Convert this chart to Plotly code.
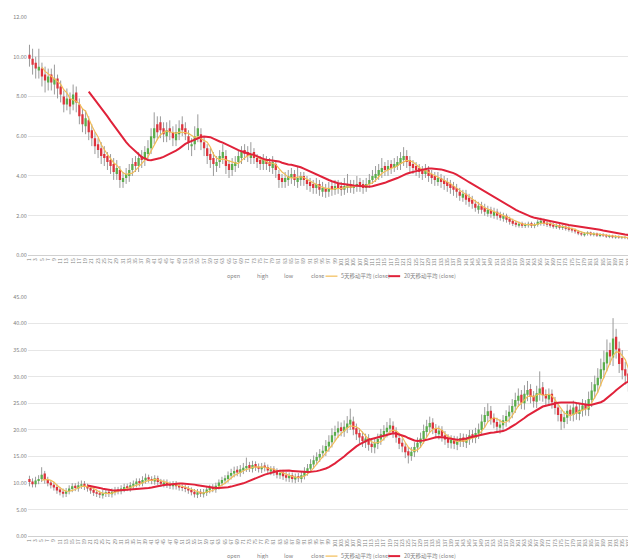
import plotly.graph_objects as go
import pandas as pd

# ---------------- data: top chart (196 periods) ----------------
top_open = [10.1, 9.9, 9.7, 9.3, 9.4, 9.1, 8.7, 9.1, 8.6, 8.9,
            8.5, 8.0, 7.6, 7.9, 7.6, 8.2, 7.6, 7.1, 6.5, 6.8,
            6.3, 5.9, 5.6, 5.4, 5.1, 5.0, 4.8, 4.6, 4.1, 4.3,
            3.7, 3.9, 4.0, 4.3, 4.7, 4.5, 5.0, 4.8, 5.1, 5.4,
            5.9, 6.6, 6.7, 6.4, 6.0, 6.4, 6.2, 5.8, 6.1, 6.6,
            6.4, 6.0, 5.5, 5.6, 6.0, 6.1, 5.7, 5.4, 5.1, 4.9,
            4.5, 4.7, 4.9, 5.0, 4.6, 4.3, 4.5, 4.7, 4.9, 5.3,
            5.2, 4.9, 5.2, 4.9, 4.8, 4.6, 4.8, 4.7, 4.4, 4.6,
            4.1, 3.9, 3.7, 3.8, 3.9, 4.1, 3.7, 3.8, 4.0, 3.8,
            3.7, 3.6, 3.4, 3.6, 3.2, 3.4, 3.2, 3.5, 3.3, 3.6,
            3.5, 3.3, 3.4, 3.6, 3.4, 3.5, 3.7, 3.6, 3.4, 3.6,
            3.8, 3.9, 4.0, 4.2, 4.5, 4.3, 4.6, 4.4, 4.5, 4.6,
            4.8, 5.0, 4.8, 4.6, 4.5, 4.4, 4.3, 4.1, 4.3, 4.1,
            4.0, 3.7, 3.9, 3.8, 3.7, 3.6, 3.5, 3.4, 3.2, 2.9,
            3.1, 2.9, 2.8, 2.6, 2.3, 2.5, 2.4, 2.1, 2.3, 2.0,
            2.2, 2.05, 1.85, 2.0, 1.85, 1.75, 1.65, 1.5, 1.62, 1.48,
            1.52, 1.62, 1.48, 1.55, 1.62, 1.75, 1.65, 1.6, 1.55, 1.42,
            1.52, 1.38, 1.45, 1.4, 1.33, 1.28, 1.2, 1.12, 1.02, 1.08,
            1.15, 1.03, 1.1, 0.98, 1.06, 1.02, 0.93, 0.99, 0.9, 0.96,
            0.88, 0.93, 0.9, 0.84, 0.9, 0.85]
top_high = [10.6, 10.4, 10.0, 10.4, 9.7, 9.5, 9.4, 9.4, 9.6, 9.1,
            8.8, 8.3, 8.4, 8.2, 8.6, 8.5, 7.9, 7.4, 7.3, 7.0,
            6.6, 6.2, 5.9, 5.7, 5.5, 5.2, 5.1, 4.9, 4.8, 4.5,
            4.2, 4.4, 4.6, 4.9, 5.0, 5.2, 5.3, 5.5, 5.8, 6.4,
            7.2, 7.0, 7.0, 6.7, 6.7, 6.8, 6.5, 6.6, 6.8, 7.0,
            6.7, 6.3, 5.9, 6.5, 7.1, 6.4, 6.0, 5.6, 5.4, 5.2,
            5.0, 5.3, 5.6, 5.3, 4.8, 4.9, 5.0, 5.3, 5.5, 5.6,
            5.5, 5.7, 5.4, 5.1, 5.0, 5.1, 5.0, 4.9, 5.0, 4.8,
            4.3, 4.1, 4.2, 4.3, 4.4, 4.3, 4.5, 4.2, 4.2, 4.0,
            3.9, 3.8, 3.9, 3.8, 3.7, 3.6, 3.7, 3.7, 3.8, 3.8,
            3.7, 3.9, 4.1, 3.8, 3.8, 4.0, 3.9, 3.8, 3.9, 4.1,
            4.3, 4.5, 4.6, 4.9, 4.7, 4.8, 4.8, 4.9, 5.0, 5.2,
            5.45, 5.3, 5.0, 4.8, 4.7, 4.6, 4.5, 4.6, 4.5, 4.3,
            4.2, 4.2, 4.1, 4.0, 3.9, 3.8, 3.7, 3.6, 3.4, 3.3,
            3.3, 3.1, 3.0, 2.8, 2.7, 2.7, 2.6, 2.5, 2.45, 2.4,
            2.35, 2.2, 2.15, 2.1, 1.95, 1.85, 1.75, 1.7, 1.7, 1.65,
            1.7, 1.7, 1.65, 1.8, 1.9, 1.85, 1.75, 1.7, 1.65, 1.6,
            1.6, 1.55, 1.52, 1.48, 1.4, 1.35, 1.28, 1.2, 1.18, 1.22,
            1.2, 1.17, 1.15, 1.12, 1.12, 1.08, 1.05, 1.04, 1.02, 1.01,
            0.98, 0.98, 0.95, 0.96, 0.94, 0.9]
top_low = [9.5, 9.1, 8.9, 8.9, 8.5, 8.2, 8.3, 8.3, 8.1, 7.9,
           7.7, 7.2, 7.3, 7.1, 7.3, 7.2, 6.6, 6.2, 6.1, 5.8,
           5.5, 5.1, 4.9, 4.6, 4.5, 4.3, 4.1, 3.8, 3.8, 3.4,
           3.4, 3.6, 3.7, 4.0, 4.2, 4.2, 4.4, 4.5, 4.8, 5.1,
           5.6, 5.8, 5.9, 5.7, 5.7, 5.8, 5.5, 5.5, 5.8, 6.0,
           5.8, 5.3, 5.0, 5.3, 5.7, 5.3, 5.0, 4.6, 4.4, 4.0,
           4.2, 4.4, 4.6, 4.1, 3.9, 4.0, 4.2, 4.4, 4.6, 4.8,
           4.7, 4.6, 4.6, 4.4, 4.3, 4.3, 4.3, 4.2, 4.1, 3.9,
           3.4, 3.4, 3.4, 3.5, 3.6, 3.5, 3.4, 3.5, 3.5, 3.3,
           3.2, 3.1, 3.1, 3.0, 2.95, 2.9, 2.95, 3.0, 3.05, 3.1,
           3.0, 3.05, 3.15, 3.15, 3.1, 3.2, 3.2, 3.1, 3.2, 3.4,
           3.6, 3.7, 3.8, 3.9, 4.0, 4.0, 4.1, 4.2, 4.3, 4.3,
           4.5, 4.4, 4.2, 4.1, 4.0, 3.9, 3.8, 3.9, 3.7, 3.6,
           3.5, 3.5, 3.4, 3.3, 3.2, 3.1, 3.0, 2.9, 2.75, 2.7,
           2.55, 2.45, 2.35, 2.2, 2.1, 2.1, 2.0, 1.95, 1.9, 1.85,
           1.8, 1.75, 1.7, 1.65, 1.55, 1.48, 1.42, 1.4, 1.38, 1.38,
           1.4, 1.38, 1.37, 1.45, 1.5, 1.48, 1.43, 1.4, 1.35, 1.33,
           1.3, 1.28, 1.25, 1.2, 1.15, 1.1, 1.02, 0.97, 0.95, 1.0,
           0.97, 0.96, 0.93, 0.92, 0.93, 0.88, 0.87, 0.86, 0.84, 0.84,
           0.82, 0.82, 0.79, 0.78, 0.76, 0.74]
top_close = [9.9, 9.6, 9.4, 9.5, 9.0, 8.8, 9.0, 8.7, 8.9, 8.4,
             8.1, 7.6, 7.9, 7.5, 8.1, 7.7, 7.0, 6.6, 6.9, 6.2,
             5.9, 5.5, 5.3, 5.0, 4.9, 4.7, 4.5, 4.2, 4.4, 3.8,
             3.9, 4.1, 4.3, 4.6, 4.5, 4.9, 4.8, 5.2, 5.4, 6.0,
             6.4, 6.2, 6.3, 6.1, 6.3, 6.2, 5.9, 6.2, 6.4, 6.3,
             6.1, 5.7, 5.6, 6.0, 6.4, 5.7, 5.4, 5.0, 4.8, 4.6,
             4.7, 5.0, 5.2, 4.5, 4.3, 4.6, 4.7, 5.0, 5.2, 5.1,
             5.0, 5.1, 4.9, 4.7, 4.6, 4.8, 4.6, 4.5, 4.7, 4.3,
             3.8, 3.7, 3.9, 4.0, 4.1, 3.8, 3.9, 4.0, 3.8, 3.6,
             3.5, 3.4, 3.6, 3.3, 3.4, 3.2, 3.4, 3.3, 3.5, 3.4,
             3.3, 3.5, 3.6, 3.4, 3.5, 3.6, 3.5, 3.4, 3.6, 3.8,
             4.0, 4.1, 4.3, 4.4, 4.3, 4.5, 4.4, 4.6, 4.7, 4.9,
             5.0, 4.7, 4.5, 4.4, 4.3, 4.2, 4.1, 4.3, 4.0, 3.9,
             3.8, 3.9, 3.7, 3.6, 3.5, 3.4, 3.3, 3.2, 3.0, 3.1,
             2.8, 2.7, 2.6, 2.4, 2.5, 2.3, 2.2, 2.3, 2.1, 2.2,
             2.0, 1.9, 2.0, 1.8, 1.7, 1.6, 1.55, 1.6, 1.5, 1.55,
             1.6, 1.5, 1.55, 1.7, 1.75, 1.6, 1.55, 1.5, 1.45, 1.5,
             1.4, 1.45, 1.35, 1.3, 1.25, 1.2, 1.1, 1.05, 1.1, 1.15,
             1.05, 1.1, 1.0, 1.05, 1.0, 0.95, 0.98, 0.92, 0.95, 0.9,
             0.92, 0.88, 0.85, 0.9, 0.82, 0.8]

# ---------------- data: bottom chart (200 periods) ----------------
bot_open = [10.8, 10.3, 9.8, 10.4, 10.8, 11.8, 10.7, 10.1, 9.7, 9.3,
            8.8, 8.4, 8.0, 8.5, 8.9, 9.5, 9.0, 9.5, 9.9, 9.4,
            9.1, 8.7, 8.3, 8.1, 7.7, 8.0, 8.4, 7.9, 8.3, 8.8,
            8.5, 8.9, 9.4, 9.0, 9.5, 9.8, 10.4, 10.0, 10.5, 11.1,
            10.8, 10.3, 10.9, 10.3, 9.8, 10.2, 9.8, 9.4, 9.9, 9.5,
            9.3, 9.2, 9.0, 8.7, 8.4, 7.8, 8.4, 7.9, 8.2, 8.7,
            9.3, 8.8, 9.4, 10.0, 10.5, 10.8, 11.4, 11.8, 12.5, 11.9,
            12.4, 12.8, 13.4, 12.7, 13.6, 13.1, 12.6, 13.3, 13.0, 12.2,
            12.7, 12.2, 11.5, 12.0, 11.5, 10.9, 11.5, 10.7, 11.3, 10.8,
            11.4, 12.1, 12.7, 13.5, 14.2, 14.8, 15.6, 16.0, 16.9, 17.7,
            18.9, 19.5, 20.5, 19.7, 20.4, 21.0, 21.6, 20.3, 19.4, 18.8,
            17.7, 18.5, 17.4, 16.7, 17.4, 18.2, 19.0, 19.6, 20.2, 20.8,
            19.7, 18.5, 17.6, 16.9, 16.0, 15.1, 15.8, 16.7, 17.5, 18.3,
            19.6, 20.5, 21.4, 20.3, 19.2, 20.0, 19.0, 18.4, 17.5, 18.2,
            17.2, 17.8, 18.6, 17.6, 18.2, 19.2, 18.5, 19.3, 20.0, 21.5,
            22.6, 23.6, 22.3, 21.5, 20.4, 20.9, 21.7, 22.5, 23.3, 24.4,
            25.5, 26.6, 25.0, 26.6, 27.7, 26.4, 25.3, 26.7, 28.0, 26.7,
            25.7, 26.8, 25.3, 24.2, 23.0, 21.5, 22.3, 23.8, 22.8, 24.4,
            23.0, 23.7, 24.8, 23.8, 25.6, 27.2, 28.4, 29.6, 31.2, 32.5,
            35.0, 33.6, 37.5, 35.3, 33.5, 31.4, 30.6, 29.0, 30.4, 31.6]
bot_high = [11.4, 10.9, 11.2, 11.5, 13.0, 12.3, 11.2, 10.6, 10.2, 9.8,
            9.3, 9.0, 9.1, 9.6, 10.0, 10.0, 10.3, 10.5, 10.4, 9.9,
            9.6, 9.2, 8.8, 8.6, 8.7, 8.9, 8.9, 9.0, 9.3, 9.3,
            9.6, 9.9, 9.9, 10.2, 10.5, 10.9, 10.9, 11.3, 11.8, 11.6,
            11.3, 11.5, 11.4, 10.8, 10.7, 10.7, 10.3, 10.4, 10.4, 10.0,
            9.8, 9.7, 9.5, 9.2, 8.9, 8.9, 8.9, 8.9, 9.4, 9.7,
            9.8, 10.1, 10.7, 11.2, 11.5, 12.2, 12.7, 13.1, 13.2, 13.4,
            13.8, 14.8, 14.0, 14.2, 14.1, 13.7, 13.8, 13.9, 13.5, 13.2,
            13.2, 12.8, 12.5, 12.5, 12.1, 12.0, 12.0, 11.8, 11.9, 12.2,
            13.0, 13.6, 14.5, 15.2, 15.8, 16.4, 17.1, 18.1, 19.0, 20.3,
            20.8, 21.6, 21.4, 21.8, 22.6, 24.0, 22.5, 21.2, 20.3, 19.7,
            19.3, 19.2, 18.2, 18.4, 19.3, 20.2, 20.9, 21.5, 22.2, 21.6,
            20.5, 19.3, 18.4, 17.6, 16.8, 16.8, 17.7, 18.6, 19.5, 21.0,
            21.9, 22.5, 22.2, 21.1, 20.8, 20.7, 19.8, 19.2, 19.0, 18.9,
            18.8, 19.4, 19.3, 19.2, 20.0, 20.0, 20.4, 21.2, 22.9, 24.3,
            25.0, 24.5, 23.1, 22.3, 22.0, 22.8, 23.7, 24.6, 25.8, 27.0,
            27.8, 27.5, 28.4, 29.2, 28.6, 27.3, 28.3, 31.0, 29.0, 27.6,
            27.8, 27.6, 26.2, 25.1, 23.8, 23.5, 24.8, 24.6, 25.5, 25.2,
            24.9, 25.8, 25.6, 27.2, 29.0, 30.2, 31.6, 33.4, 34.9, 37.0,
            36.4, 41.0, 39.0, 36.6, 35.0, 32.8, 32.0, 32.4, 33.2, 36.8]
bot_low = [9.4, 9.2, 9.2, 9.8, 10.2, 9.9, 9.4, 9.0, 8.6, 8.0,
           7.7, 7.3, 7.4, 7.9, 8.3, 8.5, 8.4, 8.9, 8.7, 8.4,
           8.0, 7.6, 7.4, 7.2, 7.1, 7.4, 7.4, 7.3, 7.7, 7.9,
           7.9, 8.3, 8.5, 8.4, 8.9, 9.2, 9.4, 9.4, 9.9, 10.1,
           9.8, 9.7, 9.6, 9.3, 9.2, 9.1, 8.9, 8.8, 8.8, 8.6,
           8.5, 8.3, 8.0, 7.7, 7.3, 7.2, 7.4, 7.3, 7.6, 8.1,
           8.3, 8.2, 8.8, 9.4, 9.8, 10.1, 10.7, 11.1, 11.3, 11.2,
           11.7, 12.1, 12.1, 12.0, 12.3, 12.0, 11.9, 12.2, 11.7, 11.5,
           11.4, 10.9, 10.8, 10.6, 10.3, 10.2, 10.1, 10.0, 10.2, 10.1,
           10.7, 11.4, 12.0, 12.7, 13.4, 14.0, 14.7, 15.1, 15.9, 16.7,
           17.9, 18.5, 18.8, 18.7, 19.4, 20.0, 19.0, 18.1, 17.5, 16.8,
           16.6, 16.1, 15.7, 15.6, 16.4, 17.2, 18.0, 18.6, 19.2, 18.5,
           17.6, 16.4, 15.8, 14.7, 13.7, 14.2, 14.9, 15.8, 16.6, 17.4,
           18.6, 19.5, 19.2, 18.4, 18.2, 17.8, 17.2, 16.6, 16.5, 16.4,
           16.2, 16.8, 16.8, 16.6, 17.2, 17.6, 17.5, 18.3, 19.0, 20.4,
           21.5, 21.0, 20.3, 19.5, 19.3, 19.8, 20.6, 21.4, 22.2, 23.2,
           24.3, 23.9, 23.8, 25.4, 25.0, 24.2, 24.1, 25.5, 25.3, 24.7,
           24.5, 24.0, 22.9, 21.6, 20.0, 20.3, 21.1, 21.7, 21.6, 21.9,
           21.8, 22.5, 22.7, 22.6, 24.3, 25.9, 27.0, 28.2, 29.7, 31.0,
           32.2, 32.0, 33.4, 30.7, 29.5, 28.5, 27.2, 27.4, 28.8, 30.0]
bot_close = [10.2, 9.8, 10.5, 10.8, 11.6, 10.6, 10.0, 9.6, 9.2, 8.6,
             8.3, 8.0, 8.5, 9.0, 9.4, 9.1, 9.6, 9.8, 9.3, 9.0,
             8.6, 8.2, 8.0, 7.8, 8.1, 8.3, 8.0, 8.4, 8.7, 8.5,
             9.0, 9.3, 9.1, 9.6, 9.9, 10.3, 10.0, 10.6, 11.0, 10.7,
             10.4, 10.9, 10.2, 9.9, 10.1, 9.7, 9.5, 9.8, 9.4, 9.2,
             9.1, 8.9, 8.6, 8.3, 7.9, 8.3, 8.0, 8.3, 8.8, 9.1,
             8.9, 9.5, 10.1, 10.6, 10.9, 11.5, 11.9, 12.3, 12.0, 12.6,
             12.9, 13.2, 12.8, 13.4, 13.0, 12.7, 13.1, 12.9, 12.4, 12.6,
             12.1, 11.6, 11.9, 11.3, 11.0, 11.4, 10.8, 11.2, 10.9, 11.5,
             12.2, 12.8, 13.6, 14.3, 14.9, 15.5, 16.1, 17.0, 17.8, 19.0,
             19.6, 20.3, 19.8, 20.6, 21.2, 21.9, 20.1, 19.2, 18.6, 17.9,
             18.4, 17.2, 16.8, 17.5, 18.3, 19.2, 19.8, 20.4, 20.9, 19.5,
             18.6, 17.4, 16.9, 15.8, 15.2, 15.9, 16.8, 17.6, 18.4, 19.8,
             20.7, 21.3, 20.2, 19.4, 19.9, 18.8, 18.2, 17.6, 18.1, 17.4,
             17.9, 18.5, 17.8, 18.3, 19.0, 18.6, 19.4, 20.1, 21.6, 22.8,
             23.5, 22.1, 21.4, 20.6, 21.0, 21.8, 22.6, 23.4, 24.5, 25.6,
             26.4, 25.1, 26.8, 27.5, 26.2, 25.4, 26.9, 27.8, 26.5, 25.9,
             26.6, 25.2, 24.1, 22.8, 21.6, 22.4, 23.6, 22.9, 24.2, 23.1,
             23.8, 24.6, 23.9, 25.8, 27.4, 28.6, 29.8, 31.4, 32.7, 34.6,
             33.8, 37.2, 35.1, 32.4, 31.2, 30.2, 29.1, 30.6, 31.5, 35.4]

legend_names = ["open", "high", "low", "close",
                "5天移动平均 (close)", "20天移动平均 (close)"]
ma_periods = [5, 20]

top_cats = list(range(1, len(top_close) + 1))
bot_cats = list(range(1, len(bot_close) + 1))

# ---------------- styling ----------------
W, H = 636, 559
GREEN = "#5aad4c"
RED = "#dd333d"
WICK = "#9a9a9a"
MA5_COLOR = "#f2bd57"
MA20_COLOR = "#e0223a"
TXT = "#7f7f7f"
GRID = "#e6e6e6"
FONT = "Noto Sans CJK SC"


def px_x(p):
    return p / W


def px_y(p):
    return (H - p) / H


fig = go.Figure()


def add_stock(cats, o, h, l, c, xa, ya):
    # high-low lines
    wx, wy = [], []
    for xi, hi, lo in zip(cats, h, l):
        wx += [xi, xi, None]
        wy += [lo, hi, None]
    fig.add_trace(go.Scatter(x=wx, y=wy, mode="lines", xaxis=xa, yaxis=ya,
                             line=dict(color=WICK, width=1), hoverinfo="skip",
                             showlegend=False))
    # bodies (open -> close), drawn as thick segments
    for up, col in [(True, GREEN), (False, RED)]:
        bx, by = [], []
        for xi, a, b in zip(cats, o, c):
            if (b >= a) == up:
                bx += [xi, xi, None]
                by += [a, b, None]
        fig.add_trace(go.Scatter(x=bx, y=by, mode="lines", xaxis=xa, yaxis=ya,
                                 line=dict(color=col, width=2.3), hoverinfo="skip",
                                 showlegend=False))
    s = pd.Series(c)
    for per, col, wid, name in zip(ma_periods, [MA5_COLOR, MA20_COLOR], [1.2, 2.0], legend_names[4:]):
        ma = s.rolling(per).mean()
        fig.add_trace(go.Scatter(x=cats, y=ma, mode="lines", xaxis=xa, yaxis=ya,
                                 line=dict(color=col, width=wid), name=name,
                                 showlegend=False))


add_stock(top_cats, top_open, top_high, top_low, top_close, "x", "y")
add_stock(bot_cats, bot_open, bot_high, bot_low, bot_close, "x2", "y2")

xdom = [px_x(17), px_x(631)]
common_x = dict(tickangle=-90, tickfont=dict(size=4.8, color=TXT, family=FONT),
                showgrid=False, zeroline=False, showline=True, linecolor="#d0d0d0",
                linewidth=1, ticks="", tickmode="array", fixedrange=True)
common_y = dict(tickformat=".2f", tickfont=dict(size=5.5, color=TXT, family=FONT),
                showgrid=True, gridcolor=GRID, gridwidth=1, zeroline=False,
                showline=False, ticks="", fixedrange=True)

fig.update_layout(
    width=W, height=H, margin=dict(l=0, r=0, t=0, b=0),
    paper_bgcolor="white", plot_bgcolor="white",
    showlegend=False,
    xaxis=dict(domain=xdom, range=[0.5, len(top_cats) + 0.5], anchor="y",
               tickvals=top_cats[::2], ticktext=[str(v) for v in top_cats[::2]], **common_x),
    yaxis=dict(domain=[px_y(247), px_y(5)], range=[0, 12], dtick=2, anchor="x", **common_y),
    xaxis2=dict(domain=xdom, range=[0.5, len(bot_cats) + 0.5], anchor="y2",
                tickvals=bot_cats[::2], ticktext=[str(v) for v in bot_cats[::2]], **common_x),
    yaxis2=dict(domain=[px_y(532), px_y(289)], range=[0, 45], dtick=5, anchor="x2", **common_y),
)

# ---------------- legends (below each chart) ----------------
text_x = [215, 245, 272, 299, 330, 393]
swatch = {4: (316, 328, MA5_COLOR, 1.2), 5: (379, 391, MA20_COLOR, 2.0)}
for ly in [268, 552]:
    for k, name in enumerate(legend_names):
        fig.add_annotation(x=px_x(text_x[k]), y=px_y(ly), xref="paper", yref="paper",
                           text=name, showarrow=False, xanchor="left", yanchor="middle",
                           font=dict(size=5.5, color=TXT, family=FONT))
        if k in swatch:
            x0, x1, col, wid = swatch[k]
            fig.add_shape(type="line", xref="paper", yref="paper",
                          x0=px_x(x0), x1=px_x(x1), y0=px_y(ly), y1=px_y(ly),
                          line=dict(color=col, width=wid))

fig.write_html("out.html")
